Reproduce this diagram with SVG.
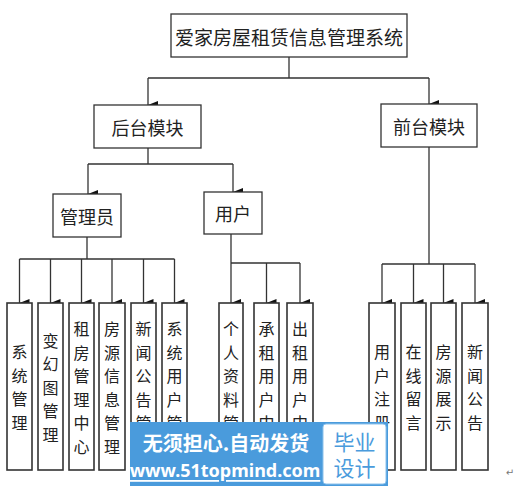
<svg xmlns="http://www.w3.org/2000/svg" width="520" height="488" viewBox="0 0 520 488">
<defs>
<marker id="arr" viewBox="0 0 8 10" refX="4" refY="10" markerWidth="8" markerHeight="10" markerUnits="userSpaceOnUse" orient="auto-start-reverse">
<path d="M0,0 L8,0 L4,10 Z" fill="#111"/>
</marker>
</defs>
<style>
.box{fill:#fff;stroke:#333;stroke-width:1.3}
.leaf{fill:#fff;stroke:#333;stroke-width:1.6}
.t{font-family:"Noto Sans CJK SC","Noto Sans",sans-serif;fill:#222;text-anchor:middle;dominant-baseline:central}
.t20{font-size:19px}
.t18{font-size:18px}
.t16{font-size:16px}
.ln{fill:none;stroke:#333;stroke-width:1.3}
.ar{fill:none;stroke:#333;stroke-width:1.3;marker-end:url(#arr)}
</style>
<rect width="520" height="488" fill="#fff"/>
<g id="connectors">
<path class="ln" d="M289,57 V78 M148,78 H429"/>
<path class="ar" d="M148,78 V105"/>
<path class="ar" d="M429,78 V104"/>
<path class="ln" d="M148,148 V164 M88,164 H233"/>
<path class="ar" d="M88,164 V194"/>
<path class="ar" d="M233,164 V192"/>
<path class="ln" d="M87,237 V259 M19.5,259 H174.5"/>
<path class="ar" d="M19.5,259 V303"/>
<path class="ar" d="M50.5,259 V303"/>
<path class="ar" d="M81.5,259 V303"/>
<path class="ar" d="M112,259 V303"/>
<path class="ar" d="M143.5,259 V303"/>
<path class="ar" d="M174.5,259 V303"/>
<path class="ln" d="M231,234 V263 M231,263 H300"/>
<path class="ar" d="M231,263 V303"/>
<path class="ar" d="M266.5,263 V303"/>
<path class="ar" d="M300,263 V303"/>
<path class="ln" d="M429,147 V264 M382,264 H475"/>
<path class="ar" d="M382,264 V303"/>
<path class="ar" d="M413.5,264 V303"/>
<path class="ar" d="M443.5,264 V303"/>
<path class="ar" d="M475,264 V303"/>
</g>
<g id="root"><rect class="box" x="171" y="14" width="236" height="43"/><text class="t t20" x="289" y="36">爱家房屋租赁信息管理系统</text></g>
<g id="backend"><rect class="box" x="94" y="105" width="107" height="43"/><text class="t t18" x="147.5" y="127">后台模块</text></g>
<g id="frontend"><rect class="box" x="381" y="104" width="96" height="43"/><text class="t t18" x="429" y="126">前台模块</text></g>
<g id="admin"><rect class="box" x="53" y="194" width="68" height="43"/><text class="t t18" x="87" y="216">管理员</text></g>
<g id="user"><rect class="box" x="204" y="192" width="58" height="42"/><text class="t t18" x="233" y="213">用户</text></g>
<g id="leaf1"><rect class="leaf" x="7" y="303" width="25" height="167"/><text class="t t16"><tspan x="19.5" y="351">系</tspan><tspan x="19.5" y="374.5">统</tspan><tspan x="19.5" y="398">管</tspan><tspan x="19.5" y="421.5">理</tspan></text></g>
<g id="leaf2"><rect class="leaf" x="38" y="303" width="25" height="167"/><text class="t t16"><tspan x="50.5" y="339.5">变</tspan><tspan x="50.5" y="363">幻</tspan><tspan x="50.5" y="386.5">图</tspan><tspan x="50.5" y="410">管</tspan><tspan x="50.5" y="433.5">理</tspan></text></g>
<g id="leaf3"><rect class="leaf" x="69" y="303" width="25" height="167"/><text class="t t16"><tspan x="81.5" y="328">租</tspan><tspan x="81.5" y="351.5">房</tspan><tspan x="81.5" y="375">管</tspan><tspan x="81.5" y="398.5">理</tspan><tspan x="81.5" y="422">中</tspan><tspan x="81.5" y="445.5">心</tspan></text></g>
<g id="leaf4"><rect class="leaf" x="99" y="303" width="26" height="167"/><text class="t t16"><tspan x="112" y="328">房</tspan><tspan x="112" y="351.5">源</tspan><tspan x="112" y="375">信</tspan><tspan x="112" y="398.5">息</tspan><tspan x="112" y="422">管</tspan><tspan x="112" y="445.5">理</tspan></text></g>
<g id="leaf5"><rect class="leaf" x="131" y="303" width="25" height="167"/><text class="t t16"><tspan x="143.5" y="328">新</tspan><tspan x="143.5" y="351.5">闻</tspan><tspan x="143.5" y="375">公</tspan><tspan x="143.5" y="398.5">告</tspan><tspan x="143.5" y="422">管</tspan><tspan x="143.5" y="445.5">理</tspan></text></g>
<g id="leaf6"><rect class="leaf" x="162" y="303" width="25" height="167"/><text class="t t16"><tspan x="174.5" y="328">系</tspan><tspan x="174.5" y="351.5">统</tspan><tspan x="174.5" y="375">用</tspan><tspan x="174.5" y="398.5">户</tspan><tspan x="174.5" y="422">管</tspan><tspan x="174.5" y="445.5">理</tspan></text></g>
<g id="leaf7"><rect class="leaf" x="219" y="303" width="24" height="167"/><text class="t t16"><tspan x="231" y="328">个</tspan><tspan x="231" y="351.5">人</tspan><tspan x="231" y="375">资</tspan><tspan x="231" y="398.5">料</tspan><tspan x="231" y="422">管</tspan><tspan x="231" y="445.5">理</tspan></text></g>
<g id="leaf8"><rect class="leaf" x="254" y="303" width="25" height="167"/><text class="t t16"><tspan x="266.5" y="328">承</tspan><tspan x="266.5" y="351.5">租</tspan><tspan x="266.5" y="375">用</tspan><tspan x="266.5" y="398.5">户</tspan><tspan x="266.5" y="422">中</tspan><tspan x="266.5" y="445.5">心</tspan></text></g>
<g id="leaf9"><rect class="leaf" x="287" y="303" width="26" height="167"/><text class="t t16"><tspan x="300" y="328">出</tspan><tspan x="300" y="351.5">租</tspan><tspan x="300" y="375">用</tspan><tspan x="300" y="398.5">户</tspan><tspan x="300" y="422">中</tspan><tspan x="300" y="445.5">心</tspan></text></g>
<g id="leaf10"><rect class="leaf" x="369" y="303" width="26" height="167"/><text class="t t16"><tspan x="382" y="351">用</tspan><tspan x="382" y="374.5">户</tspan><tspan x="382" y="398">注</tspan><tspan x="382" y="421.5">册</tspan></text></g>
<g id="leaf11"><rect class="leaf" x="401" y="303" width="25" height="167"/><text class="t t16"><tspan x="413.5" y="351">在</tspan><tspan x="413.5" y="374.5">线</tspan><tspan x="413.5" y="398">留</tspan><tspan x="413.5" y="421.5">言</tspan></text></g>
<g id="leaf12"><rect class="leaf" x="431" y="303" width="25" height="167"/><text class="t t16"><tspan x="443.5" y="351">房</tspan><tspan x="443.5" y="374.5">源</tspan><tspan x="443.5" y="398">展</tspan><tspan x="443.5" y="421.5">示</tspan></text></g>
<g id="leaf13"><rect class="leaf" x="462" y="303" width="26" height="167"/><text class="t t16"><tspan x="475" y="351">新</tspan><tspan x="475" y="374.5">闻</tspan><tspan x="475" y="398">公</tspan><tspan x="475" y="421.5">告</tspan></text></g>
<text x="510" y="476" font-family="DejaVu Sans,sans-serif" font-size="10" fill="#777" text-anchor="middle">↵</text>
<g id="watermark">
<rect x="130" y="422" width="258" height="64" fill="#4a9bdc"/>
<rect x="323" y="424" width="63" height="60" rx="3" fill="#fff" stroke="#8cc2ec" stroke-width="1"/>
<text x="226" y="442" font-family="Noto Sans CJK SC,sans-serif" font-size="20" font-weight="bold" fill="#fff" text-anchor="middle" dominant-baseline="central">无须担心.自动发货</text>
<text x="225" y="470" font-family="Noto Sans,sans-serif" font-size="18" font-weight="bold" fill="#fff" text-anchor="middle" dominant-baseline="central" text-decoration="underline">www.51topmind.com</text>
<text x="354.5" y="441" font-family="Noto Sans CJK SC,sans-serif" font-size="21" fill="#4a9bdc" text-anchor="middle" dominant-baseline="central">毕业</text>
<text x="354.5" y="467" font-family="Noto Sans CJK SC,sans-serif" font-size="21" fill="#4a9bdc" text-anchor="middle" dominant-baseline="central">设计</text>
</g>
</svg>
